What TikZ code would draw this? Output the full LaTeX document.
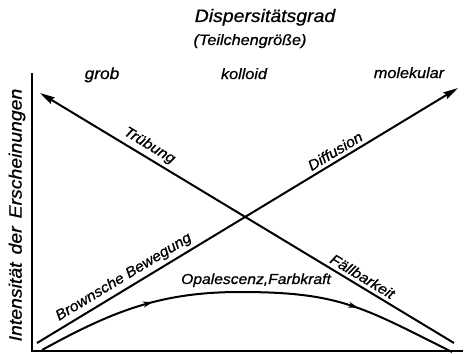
\documentclass[tikz,border=0pt]{standalone}
\usepackage{fontspec}
\newfontfamily\din[FakeStretch=1.08,FakeBold=0.8]{Liberation Sans Italic}
\usetikzlibrary{arrows.meta,decorations.markings}
\begin{document}
\begin{tikzpicture}[x=1pt,y=-1pt,
  axis/.style={line width=1.6pt},
  curveline/.style={line width=2pt},
  bigtip/.tip={Stealth[length=15pt,width=7.5pt,inset=2pt]},
  lab/.style={font=\din\fontsize{14.5}{16}\selectfont, inner sep=2.5pt},
  toplab/.style={font=\din\fontsize{15}{17}\selectfont, inner sep=0pt, anchor=base},
  midarrows/.style={postaction={decorate},
    decoration={markings,
      mark=at position 0.28 with {\arrow{Stealth[length=10pt,width=6pt]}},
      mark=at position 0.76 with {\arrow{Stealth[length=10pt,width=6pt]}}}}
]
\useasboundingbox (0,0) rectangle (465,353);
% axes
\coordinate (ytop) at (32,73);
\coordinate (orig) at (32,351);
\coordinate (xend) at (463,351);
\draw[axis] (ytop) -- (orig) -- (xend);
% lines
\coordinate (dstart) at (37,343);
\coordinate (dtip) at (458,88);
\coordinate (ttip) at (40,93);
\coordinate (tend) at (454,343);
\draw[curveline,-bigtip] (dstart) --
  node[lab,pos=0.22,sloped,above=1pt] (brown) {Brownsche Bewegung}
  node[lab,pos=0.72,sloped,above=1pt] (diff) {Diffusion} (dtip);
\draw[curveline,bigtip-] (ttip) --
  node[lab,pos=0.25,sloped,above=1pt] (trueb) {Trübung}
  node[lab,pos=0.767,sloped,above=1pt] (faell) {Fällbarkeit} (tend);
% curve
\coordinate (cstart) at (42,350);
\coordinate (cpeak) at (240,292);
\coordinate (cend) at (452,352);
\draw[curveline,midarrows] (cstart) .. controls (112,311.5) and (160,292) .. (cpeak)
  .. controls (340,292) and (362,307) .. (cend);
\node[lab,inner sep=0pt,anchor=base] (opal) at (256,284) {Opalescenz,Farbkraft};
% top labels
\node[toplab,font=\din\fontsize{18}{20}\selectfont] (title) at (265,22) {Dispersitätsgrad};
\node[toplab] (sub) at (250,45) {(Teilchengröße)};
\node[toplab,font=\din\fontsize{16}{18}\selectfont] (grob) at (102,79) {grob};
\node[toplab] (koll) at (244,79) {kolloid};
\node[toplab] (mol) at (409,78) {molekular};
% y label
\node[font=\din\fontsize{18}{20}\selectfont, rotate=90, inner sep=0pt] (ylab) at (17,215)
  {Intensität\hspace{8pt}der\hspace{8pt}Erscheinungen};
\end{tikzpicture}
\end{document}
